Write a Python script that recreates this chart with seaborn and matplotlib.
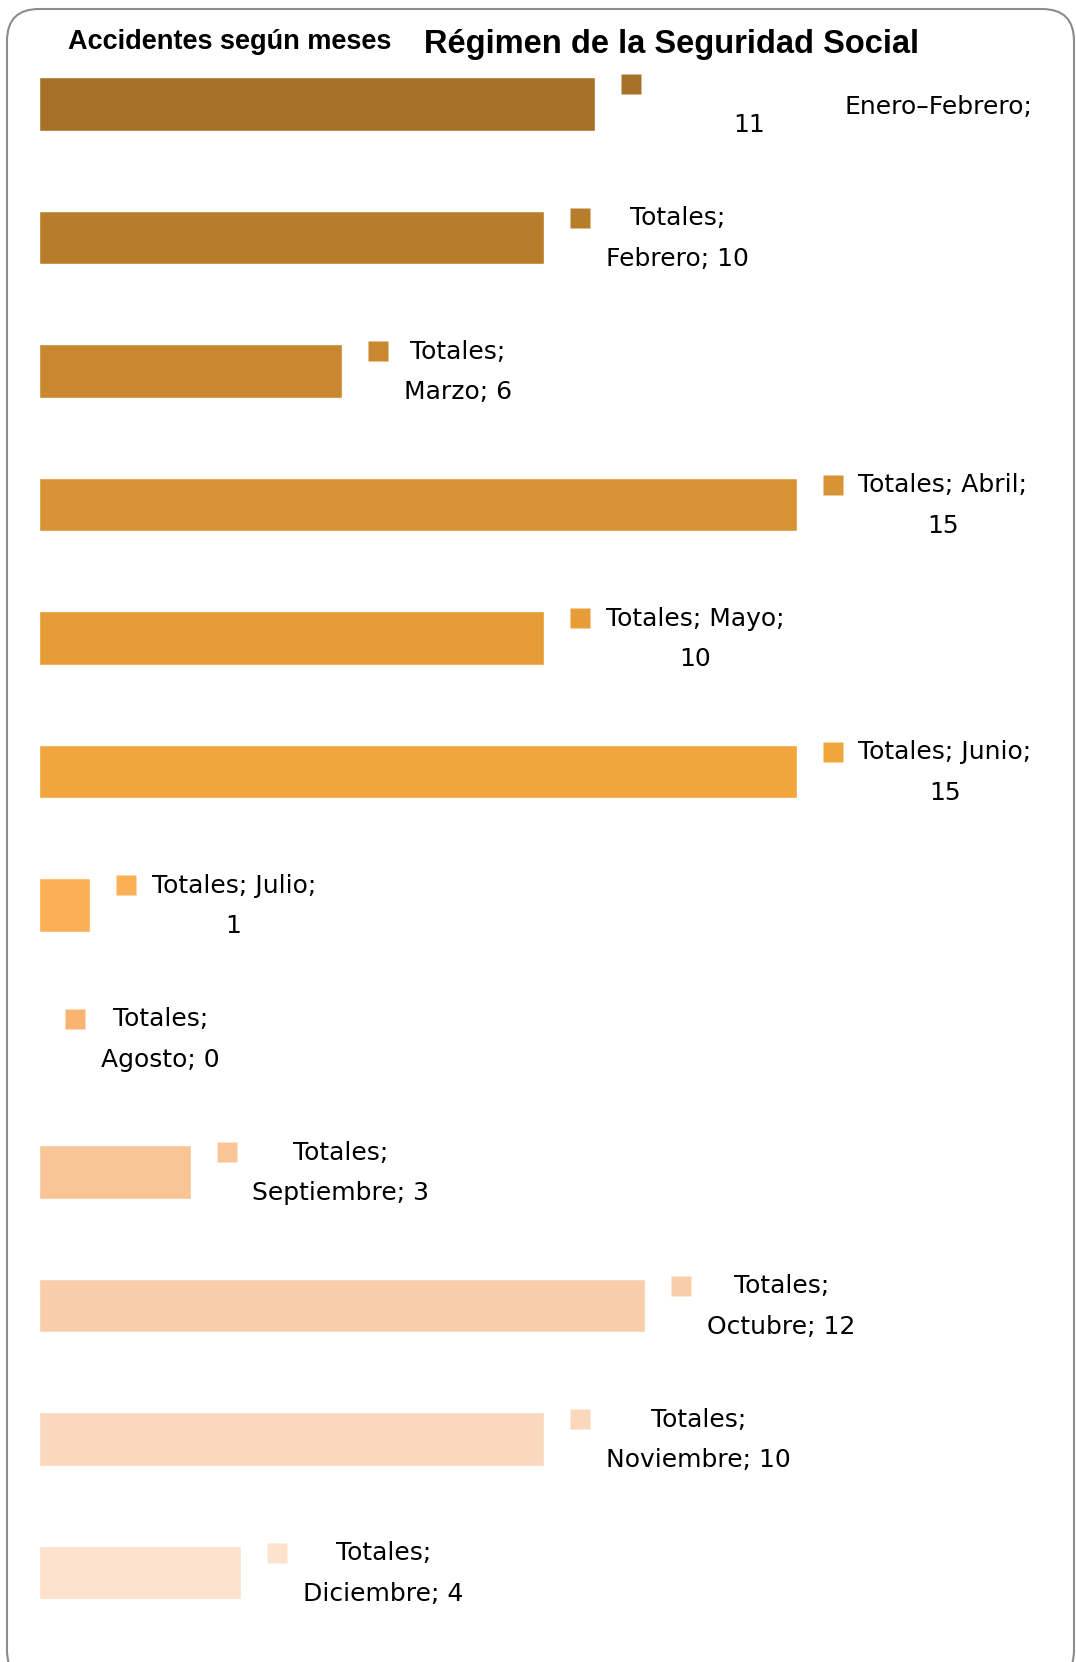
import matplotlib
matplotlib.use('Agg')
import matplotlib.pyplot as plt
import matplotlib.transforms as mtransforms
from matplotlib.patches import FancyBboxPatch
import seaborn as sns
import pandas as pd

# Datos: accidentes por mes (Totales)
months = ['Enero-Febrero', 'Febrero', 'Marzo', 'Abril', 'Mayo', 'Junio', 'Julio',
          'Agosto', 'Septiembre', 'Octubre', 'Noviembre', 'Diciembre']
values = [11, 10, 6, 15, 10, 15, 1, 0, 3, 12, 10, 4]
series_name = 'Totales'
# True -> "Totales; Mes;" / "valor", False -> "Totales;" / "Mes; valor"
month_on_first_line = [False, False, False, True, True, True, True,
                       False, False, False, False, False]
colors = ['#A87128', '#B87D2B', '#C9882F', '#D89335', '#E69D38', '#F1A63D',
          '#FBB056', '#F8B470', '#F9C597', '#FACDAA', '#FAD8BD', '#FCE1CC']

W, H = 1076, 1662
fig = plt.figure(figsize=(W / 100, H / 100), dpi=100)
sns.set_style('white')
plt.rcParams['font.family'] = ['DejaVu Sans']

df = pd.DataFrame({'mes': months, 'valor': values})

# axes covering the plot area, scaled so 1 unit = 50.5 px, 1 row = 133.5 px
ax = fig.add_axes([39 / W, 0, (W - 39) / W, 1])
sns.barplot(data=df, x='valor', y='mes', hue='mes', palette=colors, orient='h',
            width=0.4, saturation=1, legend=False, ax=ax)
ax.set_xlim(0, (W - 39) / 50.5)
ax.set_ylim((H - 104) / 133.5, -104 / 133.5)
ax.axis('off')

fs = 18
for i, (m, v, c) in enumerate(zip(months, values, colors)):
    mk = mtransforms.offset_copy(ax.transData, fig, x=36, y=20, units='dots')
    ax.plot([v], [i], marker='s', ms=13.7, color=c, mec='none',
            transform=mk, clip_on=False)
    if i == 0:
        # first label is laid out oddly in the original
        t1 = mtransforms.offset_copy(ax.transData, fig, x=155, y=-21, units='dots')
        ax.text(v, i, str(v), transform=t1, ha='center', va='center',
                fontsize=fs, color='black')
        t2 = mtransforms.offset_copy(ax.transData, fig, x=250, y=-3, units='dots')
        ax.text(v, i, m.replace('-', '\u2013') + ';', transform=t2,
                ha='left', va='center', fontsize=fs, color='black')
        continue
    if month_on_first_line[i]:
        lbl = f'{series_name}; {m};\n{v}'
    else:
        lbl = f'{series_name};\n{m}; {v}'
    tt = mtransforms.offset_copy(ax.transData, fig, x=62, y=-1, units='dots')
    ax.text(v, i, lbl, transform=tt, ha='left', va='center', fontsize=fs,
            multialignment='center', linespacing=1.85, color='black')

# titles
fig.text(230 / W, 1 - 42 / H, 'Accidentes según meses', ha='center', va='center',
         fontsize=19.5, fontweight='bold', color='black', family='Liberation Sans')
fig.text(671 / W, 1 - 45 / H, 'Régimen de la Seguridad Social', ha='center',
         va='center', fontsize=23.5, fontweight='bold', color='black',
         family='Liberation Sans')

# rounded frame
frame = FancyBboxPatch((7, -20), 1067, 1653 + 20, boxstyle='round,pad=0,rounding_size=32',
                       transform=None, fill=False, ec='#8c8c8c', lw=1.5)
fig.patches.append(frame)

fig.savefig('out.png', dpi=100)
